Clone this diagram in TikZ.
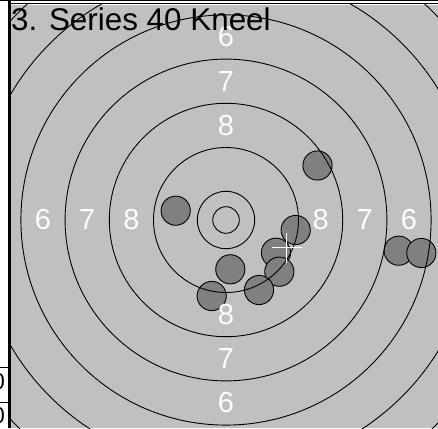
\documentclass[tikz,border=0pt]{standalone}
\usepackage{fontspec}
\setmainfont{Liberation Sans}
\usepackage{xcolor}
\usepackage{tikz}
\usetikzlibrary{calc,positioning}
\definecolor{paper}{HTML}{C0C0C0}
\definecolor{hole}{HTML}{808080}
\newcommand{\Score}{\fontsize{29}{34}\selectfont}
\newcommand{\Head}{\fontsize{31.4}{37}\selectfont}
\newcommand{\Cell}{\fontsize{23}{28}\selectfont}

\begin{document}
\begin{tikzpicture}[x=1pt,y=1pt]
      \useasboundingbox (0,0) rectangle (438,428);
      \fill[paper] (10.5,0) rectangle (438,423.3);
      \draw[line width=1.2pt] (0,427.4)--(438,427.4);
      \draw[line width=1.2pt] (9,424.6)--(438,424.6);
      \draw[line width=3pt] (9,0)--(9,428);
      \draw[line width=1pt] (0,60.5)--(8,60.5); \draw[line width=1pt] (0,25.3)--(8,25.3);
      \node[anchor=base east,inner sep=0,font=\Cell] (cellA) at (5.2,39){0};
      \node[anchor=base east,inner sep=0,font=\Cell] (cellB) at (5.2,5){0};
      \coordinate (c) at (226,208);
      \begin{scope}
        \clip (10.5,0) rectangle (438,423.3);
        % EDIT SHOTS
        \foreach \x/\y in {317.5/262.5, 175.7/217.3, 295.7/198, 276/175.3, 230.3/158.7,
            279.3/156.3, 259/138, 211.7/132, 398.7/177.3, 421.3/175}{
          \draw[fill=hole,line width=0.9pt] (\x,\y) circle (14.6);}
        \foreach \r in {13.3,28.7,72.5,116.7,160.9,205.1,249.3,293.5}{
          \draw[line width=0.9pt] (c) circle (\r);}
      \end{scope}
      \foreach \v/\d in {8/94.6, 7/138.8, 6/183}{
        \node[text=white,font=\Score] (w\v) at ($(c)+(-\d,0)$){\v};
        \node[text=white,font=\Score] (e\v) at ($(c)+(\d,0)$){\v};
        \node[text=white,font=\Score] (n\v) at ($(c)+(0,\d)$){\v};
        \node[text=white,font=\Score] (s\v) at ($(c)+(0,-\d)$){\v};}
      \coordinate (aim) at (286.7,180.3);
      \draw[white,line width=1.5pt] ($(aim)+(-15,0)$)--($(aim)+(15,0)$);
      \draw[white,line width=1.5pt] ($(aim)+(0,-15)$)--($(aim)+(0,15)$);
      \node[anchor=north west,inner sep=0,font=\Head] (title) at (11,420.5){3. Series 40 Kneel};
    \end{tikzpicture}
\end{document}
